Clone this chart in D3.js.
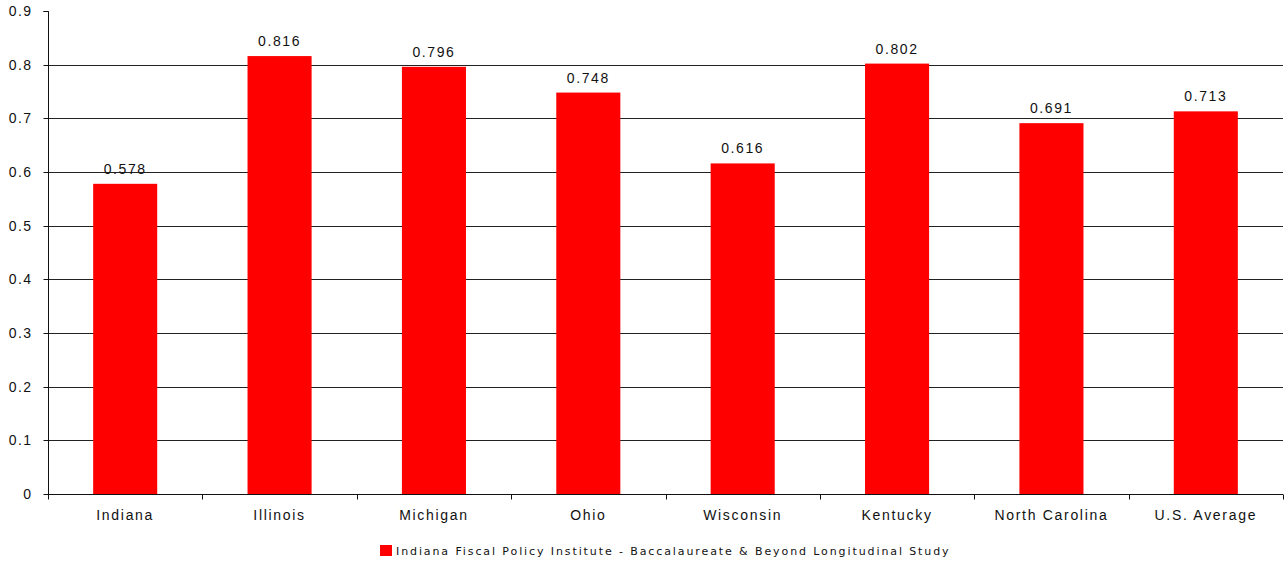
<!DOCTYPE html>
<html>
<head>
<meta charset="utf-8">
<script src="https://d3js.org/d3.v7.min.js"></script>
<style>
  html, body { margin: 0; padding: 0; background: #fff; }
  svg { display: block; }
  text { font-family: "Liberation Sans", Arial, sans-serif; fill: #111; }
</style>
</head>
<body>
<svg id="chart" width="1286" height="565"></svg>
<script>
// Graduation outcome ratios by state
const categories = ["Indiana", "Illinois", "Michigan", "Ohio", "Wisconsin", "Kentucky", "North Carolina", "U.S. Average"];
const values = [0.578, 0.816, 0.796, 0.748, 0.616, 0.802, 0.691, 0.713];
const yTicks = [0, 0.1, 0.2, 0.3, 0.4, 0.5, 0.6, 0.7, 0.8, 0.9];
const seriesName = "Indiana Fiscal Policy Institute - Baccalaureate & Beyond Longitudinal Study";

const svg = d3.select("#chart");
const margin = { left: 48, right: 3, top: 11, bottom: 71 };
const W = 1286, H = 565;
const plotW = W - margin.left - margin.right;
const plotH = H - margin.top - margin.bottom;

const x = d3.scaleBand().domain(categories).range([margin.left, margin.left + plotW]).padding(0);
const y = d3.scaleLinear().domain([0, 0.9]).range([margin.top + plotH, margin.top]);

const barW = x.bandwidth() * 0.415;

// horizontal gridlines
svg.append("g")
  .selectAll("line")
  .data(yTicks.filter(d => d > 0 && d < 0.9))
  .join("line")
  .attr("x1", margin.left)
  .attr("x2", margin.left + plotW)
  .attr("y1", d => Math.round(y(d)) + 0.5)
  .attr("y2", d => Math.round(y(d)) + 0.5)
  .attr("stroke", "#222")
  .attr("stroke-width", 1);

// bars
svg.append("g")
  .selectAll("rect")
  .data(values)
  .join("rect")
  .attr("x", (d, i) => x(categories[i]) + (x.bandwidth() - barW) / 2)
  .attr("y", d => y(d))
  .attr("width", barW)
  .attr("height", d => y(0) - y(d))
  .attr("fill", "#ff0000");

// value labels
svg.append("g")
  .selectAll("text")
  .data(values)
  .join("text")
  .attr("x", (d, i) => x(categories[i]) + x.bandwidth() / 2)
  .attr("y", d => y(d) - 10)
  .attr("text-anchor", "middle")
  .style("font-size", "14px")
  .style("letter-spacing", "1.6px")
  .text(d => d.toFixed(3));

// y axis
const yAxis = d3.axisLeft(y).tickValues(yTicks).tickSize(5).tickPadding(11)
  .tickFormat(d => d === 0 ? "0" : d3.format(".1f")(d));
const gy = svg.append("g").attr("transform", `translate(${margin.left + 0.5},0)`).call(yAxis);
gy.select(".domain").attr("stroke", "#111").attr("d", `M-5,${y(0.9) + 0.5}H0V${y(0) + 0.5}`);
gy.selectAll(".tick line").attr("stroke", "#111");
gy.selectAll(".tick").attr("transform", d => `translate(0,${Math.round(y(d)) + 0.5})`);
gy.selectAll(".tick text")
  .style("font-size", "14px")
  .style("letter-spacing", "1.4px")
  .attr("fill", "#111");

// x axis
const xAxis = d3.axisBottom(x).tickSize(0).tickPadding(16);
const gx = svg.append("g").attr("transform", `translate(0,${Math.round(y(0)) + 0.5})`).call(xAxis);
gx.select(".domain").attr("stroke", "#111").attr("d", `M${margin.left},0H${margin.left + plotW}`);
gx.selectAll(".tick text")
  .style("font-size", "14px")
  .style("letter-spacing", "1.7px")
  .attr("fill", "#111");
// category separators
gx.append("g")
  .selectAll("line")
  .data(categories.map(c => x(c)).concat([margin.left + plotW]))
  .join("line")
  .attr("x1", d => Math.round(d) + 0.5)
  .attr("x2", d => Math.round(d) + 0.5)
  .attr("y1", 0)
  .attr("y2", 5)
  .attr("stroke", "#111");

// legend
const legend = svg.append("g").attr("transform", "translate(380,545)");
legend.append("rect").attr("x", 0).attr("y", 0).attr("width", 12).attr("height", 11).attr("fill", "#ff0000");
legend.append("text")
  .attr("x", 16)
  .attr("y", 10)
  .style("font-family", "'DejaVu Sans', sans-serif")
  .style("font-size", "11px")
  .style("letter-spacing", "1.9px")
  .text(seriesName);
</script>
</body>
</html>
